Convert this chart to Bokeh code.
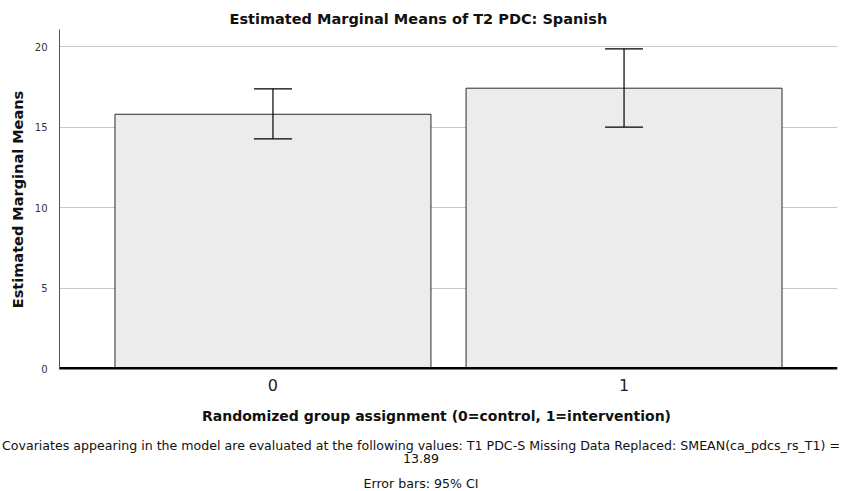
from bokeh.plotting import figure
from bokeh.layouts import column
from bokeh.models import ColumnDataSource, Whisker, TeeHead, Span, FixedTicker, Range1d, Label
from bokeh.embed import file_html
from bokeh.resources import INLINE

# Estimated marginal means by randomized group, with 95% CI bounds
groups = [0, 1]
group_labels = ["0", "1"]
means = [15.81, 17.43]
ci_lower = [14.28, 15.01]
ci_upper = [17.39, 19.88]
y_ticks = [0, 5, 10, 15, 20]

title_text = "Estimated Marginal Means of T2 PDC: Spanish"
y_label = "Estimated Marginal Means"
x_label = "Randomized group assignment (0=control, 1=intervention)"
note_1 = ("Covariates appearing in the model are evaluated at the following values: "
          "T1 PDC-S Missing Data Replaced: SMEAN(ca_pdcs_rs_T1) =")
note_2 = "13.89"
note_3 = "Error bars: 95% CI"

FONT = "DejaVu Sans"
INK = "#111111"

src = ColumnDataSource(dict(x=groups, top=means, lower=ci_lower, upper=ci_upper))

# ---- main chart -------------------------------------------------------------
p = figure(width=841, height=399, output_backend="svg", toolbar_location=None,
           x_range=Range1d(-0.608, 1.608), y_range=Range1d(-0.062, 21.08),
           min_border_left=59, min_border_right=4, min_border_top=29,
           min_border_bottom=30)
p.outline_line_color = None

p.title.text = title_text
p.title.align = "left"
p.title.offset = 170
p.title.standoff = 5
p.title.text_font = FONT
p.title.text_font_size = "14.5px"
p.title.text_font_style = "bold"
p.title.text_color = INK

# horizontal gridlines only
p.xgrid.grid_line_color = None
p.ygrid.grid_line_color = "#c8c8c8"
p.ygrid.ticker = FixedTicker(ticks=y_ticks)

# bars
p.vbar(x="x", top="top", bottom=0, width=0.9, source=src,
       fill_color="#ececec", line_color="#2a2a2a", line_width=1)

# 95% CI error bars
whisker = Whisker(base="x", lower="lower", upper="upper", source=src, level="overlay",
                  line_color="black", line_width=1.2,
                  upper_head=TeeHead(size=38, line_color="black", line_width=1.2),
                  lower_head=TeeHead(size=38, line_color="black", line_width=1.2))
p.add_layout(whisker)

# heavy baseline at zero
p.add_layout(Span(location=0, dimension="width", line_color="black", line_width=3))

# y axis
p.yaxis.ticker = FixedTicker(ticks=y_ticks)
p.yaxis.major_tick_line_color = None
p.yaxis.minor_tick_line_color = None
p.yaxis.axis_line_color = "#555555"
p.yaxis.major_label_text_font = FONT
p.yaxis.major_label_text_font_size = "10px"
p.yaxis.major_label_text_color = "#333333"
p.yaxis.major_label_standoff = 6
p.yaxis.axis_label = y_label
p.yaxis.axis_label_text_font = FONT
p.yaxis.axis_label_text_font_size = "14.5px"
p.yaxis.axis_label_text_font_style = "bold"
p.yaxis.axis_label_text_color = INK
p.yaxis.axis_label_standoff = 6

# x axis
p.xaxis.ticker = FixedTicker(ticks=groups)
p.xaxis.major_label_overrides = {g: lab for g, lab in zip(groups, group_labels)}
p.xaxis.axis_line_color = None
p.xaxis.major_tick_line_color = None
p.xaxis.minor_tick_line_color = None
p.xaxis.major_label_text_font = FONT
p.xaxis.major_label_text_font_size = "16px"
p.xaxis.major_label_text_color = "#222222"
p.xaxis.major_label_standoff = 3

# ---- axis title and footnotes strip -----------------------------------------
notes = figure(width=841, height=92, output_backend="svg", toolbar_location=None,
               x_axis_type=None, y_axis_type=None, title=None,
               x_range=Range1d(0, 1), y_range=Range1d(0, 1),
               min_border_left=0, min_border_right=0, min_border_top=0,
               min_border_bottom=0)
notes.outline_line_color = None
notes.grid.visible = False

# let the footnote strip use the full width instead of the chart's frame edges
for fig in (p, notes):
    if "frame_align" in fig.properties():
        fig.frame_align = False

def add_note(x, y, text, size, bold=False):
    notes.add_layout(Label(x=x, y=y, x_units="canvas", y_units="canvas", text=text,
                           text_font=FONT, text_font_size=size,
                           text_font_style="bold" if bold else "normal",
                           text_color=INK, text_align="center",
                           text_baseline="middle"))

add_note(436, 16.5, x_label, "14px", bold=True)
add_note(420.5, 45.7, note_1, "12.6px")
add_note(420.5, 58.5, note_2, "12.6px")
add_note(420.5, 83.5, note_3, "12.6px")

open("out.html", "w").write(file_html(column(p, notes, spacing=0), INLINE))
